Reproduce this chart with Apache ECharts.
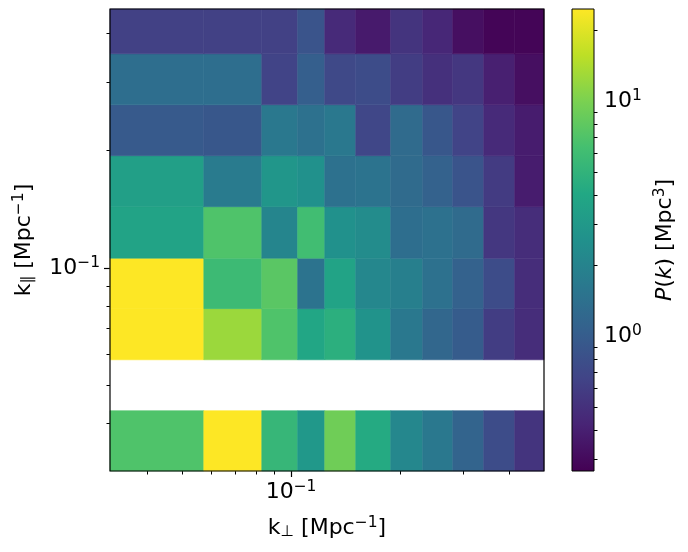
<!DOCTYPE html>
<html>
<head>
<meta charset="utf-8">
<script src="https://cdn.jsdelivr.net/npm/echarts@6/dist/echarts.min.js"></script>
<style>
html, body { margin: 0; padding: 0; background: #fff; }
#chart { width: 688px; height: 552px; }
</style>
</head>
<body>
<div id="chart"></div>
<script>
// bin edges [Mpc^-1]
var kPerpEdges = [0.0316, 0.0574, 0.0830, 0.1043, 0.1239, 0.1509, 0.1885, 0.2311, 0.2798, 0.3407, 0.4150, 0.500];
var kParEdges = [0.0302, 0.0431, 0.0582, 0.0787, 0.106, 0.1436, 0.194, 0.262, 0.354, 0.461];

// P(k) [Mpc^3], one row per k_par bin, bottom to top (null = empty bin)
var pkRow0 = [6.97, 30, 5.31, 2.94, 9.13, 4.23, 2.14, 1.63, 1.14, 0.76, 0.53];
var pkRow1 = [null, null, null, null, null, null, null, null, null, null, null];
var pkRow2 = [28, 12.5, 6.97, 3.86, 4.63, 2.69, 1.63, 1.19, 0.99, 0.60, 0.48];
var pkRow3 = [26, 5.81, 7.62, 1.49, 3.69, 2.14, 1.87, 1.43, 1.09, 0.76, 0.48];
var pkRow4 = [3.69, 6.97, 2.05, 6.08, 2.57, 2.35, 1.36, 1.43, 1.30, 0.55, 0.48];
var pkRow5 = [3.37, 1.71, 2.81, 2.57, 1.43, 1.49, 1.30, 1.09, 0.87, 0.58, 0.38];
var pkRow6 = [0.95, 0.91, 1.63, 1.43, 1.63, 0.69, 1.30, 0.91, 0.66, 0.46, 0.38];
var pkRow7 = [1.36, 1.36, 0.66, 1.04, 0.72, 0.76, 0.60, 0.50, 0.55, 0.40, 0.32];
var pkRow8 = [0.63, 0.63, 0.63, 0.87, 0.46, 0.37, 0.53, 0.44, 0.32, 0.28, 0.28];

// colour scale limits and ticks
var cbarRange = [0.267, 24.7];
var kMajorTicks = [0.1];
var kPerpMinorTicks = [0.04, 0.05, 0.06, 0.07, 0.08, 0.09, 0.2, 0.3, 0.4];
var kParMinorTicks = [0.04, 0.05, 0.06, 0.07, 0.08, 0.09, 0.2, 0.3, 0.4];
var cbarMajorTicks = [1, 10];
var cbarMinorTicks = [0.3, 0.4, 0.5, 0.6, 0.7, 0.8, 0.9, 2, 3, 4, 5, 6, 7, 8, 9, 20];

var viridis = ['#440154', '#482475', '#414487', '#355f8d', '#2a788e', '#21918c',
	'#22a884', '#44bf70', '#7ad151', '#bddf26', '#fde725'];

var FONT = 'DejaVu Sans';
var logMin = Math.log10(cbarRange[0]),
	logMax = Math.log10(cbarRange[1]);

var pkRows = [pkRow0, pkRow1, pkRow2, pkRow3, pkRow4, pkRow5, pkRow6, pkRow7, pkRow8];
var cells = [];
pkRows.forEach(function(row, j) {
	row.forEach(function(v, i) {
		if (v == null) return;
		var lv = Math.min(Math.max(Math.log10(v), logMin), logMax); // clip like imshow
		cells.push([kPerpEdges[i], kPerpEdges[i + 1], kParEdges[j], kParEdges[j + 1], lv]);
	});
});

var rich = {
	b: { fontFamily: FONT, fontSize: 22, color: '#000' },
	i: { fontFamily: FONT, fontSize: 22, fontStyle: 'italic', color: '#000' },
	s: { fontFamily: FONT, fontSize: 15.5, color: '#000', padding: [0, 0, 11, 0] },
	d: { fontFamily: FONT, fontSize: 15.5, color: '#000', padding: [6, 0, 0, 0] }
};

function powLabel(v) {
	var e = Math.round(Math.log10(v));
	return '{b|10}{s|' + (e < 0 ? '\u2212' + (-e) : e) + '}';
}

function renderCell(params, api) {
	var p0 = api.coord([api.value(0), api.value(3)]);
	var p1 = api.coord([api.value(1), api.value(2)]);
	var c = api.visual('color');
	return {
		type: 'rect',
		shape: { x: p0[0], y: p0[1], width: p1[0] - p0[0], height: p1[1] - p0[1] },
		style: { fill: c, stroke: c, lineWidth: 0.6 }
	};
}

function renderCbar(params, api) {
	var p0 = api.coord([0, api.value(1)]);
	var p1 = api.coord([1, api.value(0)]);
	var stops = viridis.map(function(c, i) {
		return { offset: 1 - i / (viridis.length - 1), color: c };
	});
	return {
		type: 'rect',
		shape: { x: p0[0], y: p0[1], width: p1[0] - p0[0], height: p1[1] - p0[1] },
		style: { fill: { type: 'linear', x: 0, y: 0, x2: 0, y2: 1, colorStops: stops } }
	};
}

function minorAxis(grid, pos, min, max, ticks) {
	return {
		type: 'log',
		gridIndex: grid,
		position: pos,
		min: min,
		max: max,
		axisLine: { show: false },
		axisLabel: { show: false },
		splitLine: { show: false },
		axisTick: { show: true, customValues: ticks, length: 3.5, lineStyle: { color: '#000', width: 1 } }
	};
}

var chart = echarts.init(document.getElementById('chart'), null, { renderer: 'canvas' });
chart.setOption({
	animation: false,
	backgroundColor: '#fff',
	grid: [{
		left: 110, top: 9, width: 434, height: 462,
		show: true, z: 10, backgroundColor: 'transparent', borderColor: '#000', borderWidth: 1.2
	}, {
		left: 572, top: 9, width: 22, height: 462,
		show: true, z: 10, backgroundColor: 'transparent', borderColor: '#000', borderWidth: 1
	}],
	xAxis: [{
		type: 'log',
		gridIndex: 0,
		position: 'bottom',
		min: kPerpEdges[0],
		max: kPerpEdges[kPerpEdges.length - 1],
		axisLine: { show: false },
		splitLine: { show: false },
		axisTick: { show: true, customValues: kMajorTicks, length: 6, lineStyle: { color: '#000', width: 1.2 } },
		axisLabel: { show: true, customValues: kMajorTicks, margin: 8, formatter: powLabel, rich: rich },
		name: '{b|k}{d|\u22a5}{b| [Mpc}{s|\u22121}{b|]}',
		nameLocation: 'middle',
		nameGap: 44,
		nameTextStyle: { rich: rich }
	}, minorAxis(0, 'bottom', kPerpEdges[0], kPerpEdges[kPerpEdges.length - 1], kPerpMinorTicks), {
		type: 'value',
		gridIndex: 1,
		min: 0,
		max: 1,
		show: false
	}],
	yAxis: [{
		type: 'log',
		gridIndex: 0,
		position: 'left',
		min: kParEdges[0],
		max: kParEdges[kParEdges.length - 1],
		axisLine: { show: false },
		splitLine: { show: false },
		axisTick: { show: true, customValues: kMajorTicks, length: 6, lineStyle: { color: '#000', width: 1.2 } },
		axisLabel: { show: true, customValues: kMajorTicks, margin: 10, formatter: powLabel, rich: rich },
		name: '{b|k}{d|\u2225}{b| [Mpc}{s|\u22121}{b|]}',
		nameLocation: 'middle',
		nameRotate: 90,
		nameGap: 72,
		nameTextStyle: { rich: rich }
	}, minorAxis(0, 'left', kParEdges[0], kParEdges[kParEdges.length - 1], kParMinorTicks), {
		type: 'log',
		gridIndex: 1,
		position: 'right',
		min: cbarRange[0],
		max: cbarRange[1],
		axisLine: { show: false },
		splitLine: { show: false },
		axisTick: { show: true, customValues: cbarMajorTicks, length: 6, lineStyle: { color: '#000', width: 1.2 } },
		axisLabel: { show: true, customValues: cbarMajorTicks, margin: 10, formatter: powLabel, rich: rich },
		name: '{i|P}{b|(}{i|k}{b|) [Mpc}{s|3}{b|]}',
		nameLocation: 'middle',
		nameRotate: 90,
		nameGap: 58,
		nameTextStyle: { rich: rich }
	}, minorAxis(1, 'right', cbarRange[0], cbarRange[1], cbarMinorTicks)],
	visualMap: {
		type: 'continuous',
		show: false,
		seriesIndex: 0,
		dimension: 4,
		min: logMin,
		max: logMax,
		inRange: { color: viridis }
	},
	series: [{
		name: 'P(k)',
		type: 'custom',
		xAxisIndex: 0,
		yAxisIndex: 0,
		renderItem: renderCell,
		encode: { x: [0, 1], y: [2, 3] },
		data: cells
	}, {
		name: 'colorbar',
		type: 'custom',
		xAxisIndex: 2,
		yAxisIndex: 2,
		renderItem: renderCbar,
		encode: { y: [0, 1] },
		data: [cbarRange]
	}]
});
</script>
</body>
</html>
